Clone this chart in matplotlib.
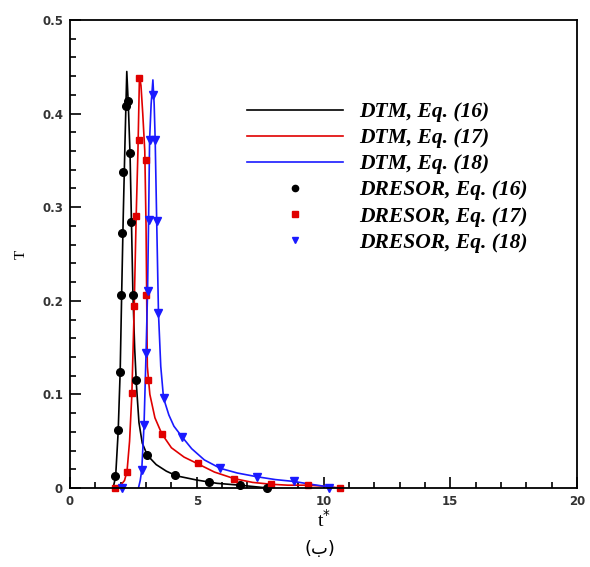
import matplotlib
matplotlib.use("Agg")
import matplotlib.pyplot as plt
from matplotlib.ticker import MultipleLocator, FuncFormatter

# ---- DTM curves (lines) ----
t_dtm16 = [1.70, 1.80, 1.90, 1.98, 2.04, 2.10, 2.17, 2.24, 2.30, 2.37, 2.42, 2.48, 2.55, 2.62,
           2.72, 2.85, 3.05, 3.40, 3.80, 4.20, 5.00, 5.80, 6.70, 7.80]
T_dtm16 = [0.0, 0.012, 0.06, 0.125, 0.21, 0.29, 0.37, 0.445, 0.41, 0.355, 0.29, 0.21, 0.15, 0.11,
           0.07, 0.048, 0.035, 0.025, 0.018, 0.013, 0.0085, 0.005, 0.003, 0.0]

t_dtm17 = [1.80, 2.00, 2.15, 2.25, 2.35, 2.44, 2.53, 2.61, 2.68, 2.74, 2.80, 2.87, 2.95, 3.00,
           3.05, 3.15, 3.35, 3.62, 4.00, 4.50, 5.03, 5.70, 6.48, 7.20, 7.93, 8.60, 9.38, 10.00, 10.64]
T_dtm17 = [0.0, 0.003, 0.008, 0.018, 0.05, 0.10, 0.19, 0.29, 0.36, 0.44, 0.43, 0.40, 0.36, 0.28,
           0.13, 0.10, 0.075, 0.058, 0.043, 0.033, 0.026, 0.017, 0.010, 0.006, 0.004, 0.003, 0.003, 0.002, 0.0]

t_dtm18 = [2.70, 2.77, 2.83, 2.92, 3.00, 3.06, 3.10, 3.14, 3.20, 3.27, 3.32, 3.36, 3.42, 3.49,
           3.58, 3.69, 3.90, 4.10, 4.41, 4.80, 5.30, 5.93, 6.60, 7.38, 8.10, 8.83, 9.50, 10.00, 10.50]
T_dtm18 = [0.0, 0.008, 0.019, 0.067, 0.144, 0.21, 0.286, 0.372, 0.41, 0.436, 0.41, 0.372, 0.285, 0.187,
           0.13, 0.096, 0.078, 0.066, 0.055, 0.042, 0.030, 0.021, 0.016, 0.012, 0.009, 0.007, 0.004, 0.002, 0.0]

# ---- DRESOR results (markers) ----
t_dr16 = [1.78, 1.91, 1.98, 2.00, 2.04, 2.08, 2.22, 2.27, 2.37, 2.40, 2.48, 2.61, 3.03, 4.15, 5.47, 6.72, 7.77]
T_dr16 = [0.013, 0.062, 0.124, 0.206, 0.272, 0.338, 0.408, 0.413, 0.358, 0.284, 0.206, 0.115, 0.035,
          0.014, 0.006, 0.003, 0.0]

t_dr17 = [1.78, 2.24, 2.44, 2.53, 2.61, 2.74, 2.74, 3.00, 3.00, 3.06, 3.62, 5.03, 6.48, 7.93, 9.38, 10.64]
T_dr17 = [0.0, 0.017, 0.101, 0.194, 0.291, 0.372, 0.438, 0.350, 0.206, 0.115, 0.058, 0.027, 0.010,
          0.004, 0.003, 0.0]

t_dr18 = [2.06, 2.83, 2.92, 3.00, 3.06, 3.10, 3.14, 3.27, 3.36, 3.42, 3.49, 3.69, 4.41, 5.93, 7.38, 8.83, 10.2]
T_dr18 = [0.0, 0.019, 0.067, 0.144, 0.21, 0.286, 0.372, 0.42, 0.372, 0.285, 0.187, 0.096, 0.055,
          0.021, 0.012, 0.007, 0.0]

line_labels = ["DTM, Eq. (16)", "DTM, Eq. (17)", "DTM, Eq. (18)"]
marker_labels = ["DRESOR, Eq. (16)", "DRESOR, Eq. (17)", "DRESOR, Eq. (18)"]

x_ticks = [0, 5, 10, 15, 20]
y_ticks = [0, 0.1, 0.2, 0.3, 0.4, 0.5]

fig = plt.figure(figsize=(5.9, 5.67), dpi=100)
ax = fig.add_axes([70 / 590, 1 - 488 / 567, 507 / 590, 468 / 567])

black, red, blue = "#000000", "#e00000", "#1a1aff"

h1, = ax.plot(t_dtm16, T_dtm16, color=black, lw=1.2, label=line_labels[0])
h2, = ax.plot(t_dtm17, T_dtm17, color=red, lw=1.2, label=line_labels[1])
h3, = ax.plot(t_dtm18, T_dtm18, color=blue, lw=1.2, label=line_labels[2])
h4, = ax.plot(t_dr16, T_dr16, ls="none", marker="o", ms=5.5, color=black, clip_on=False,
              label=marker_labels[0])
h5, = ax.plot(t_dr17, T_dr17, ls="none", marker="s", ms=4.8, color=red, clip_on=False,
              label=marker_labels[1])
h6, = ax.plot(t_dr18, T_dr18, ls="none", marker="v", ms=5.2, color=blue, clip_on=False,
              label=marker_labels[2])

ax.set_xlim(0, 20)
ax.set_ylim(0, 0.5)
ax.set_xticks(x_ticks)
ax.set_yticks(y_ticks)
ax.xaxis.set_minor_locator(MultipleLocator(1))
ax.yaxis.set_minor_locator(MultipleLocator(0.02))

def fmt(v, pos):
    if abs(v) < 1e-9:
        return "0"
    return f"{v:g}"

ax.xaxis.set_major_formatter(FuncFormatter(fmt))
ax.yaxis.set_major_formatter(FuncFormatter(fmt))

ax.tick_params(which="both", direction="in", top=False, right=False, width=1.2)
ax.tick_params(which="major", length=8, labelsize=8.5, pad=5)
ax.tick_params(which="minor", length=4.5)
for lab in ax.get_xticklabels() + ax.get_yticklabels():
    lab.set_fontweight("bold")
    lab.set_color("#333333")

for sp in ax.spines.values():
    sp.set_linewidth(1.3)

ax.set_ylabel("T", fontsize=11, family="Liberation Serif", labelpad=10)
ax.set_xlabel(r"t$^{*}$", fontsize=14, family="Liberation Serif", labelpad=1)

leg = ax.legend(handles=[h1, h2, h3, h4, h5, h6], loc="upper left",
                bbox_to_anchor=(0.31, 0.866), frameon=False, handlelength=4.5,
                handletextpad=0.75, labelspacing=0.28,
                prop={"family": "Liberation Serif", "weight": "bold", "style": "italic", "size": 15.5})
for lh in leg.legend_handles[3:]:
    lh.set_markersize(4.5)

fig.text(320 / 590, 1 - 549 / 567, "(ب)", ha="center", va="center", fontsize=13,
         family=["DejaVu Sans"])

fig.savefig("out.png", dpi=100)
